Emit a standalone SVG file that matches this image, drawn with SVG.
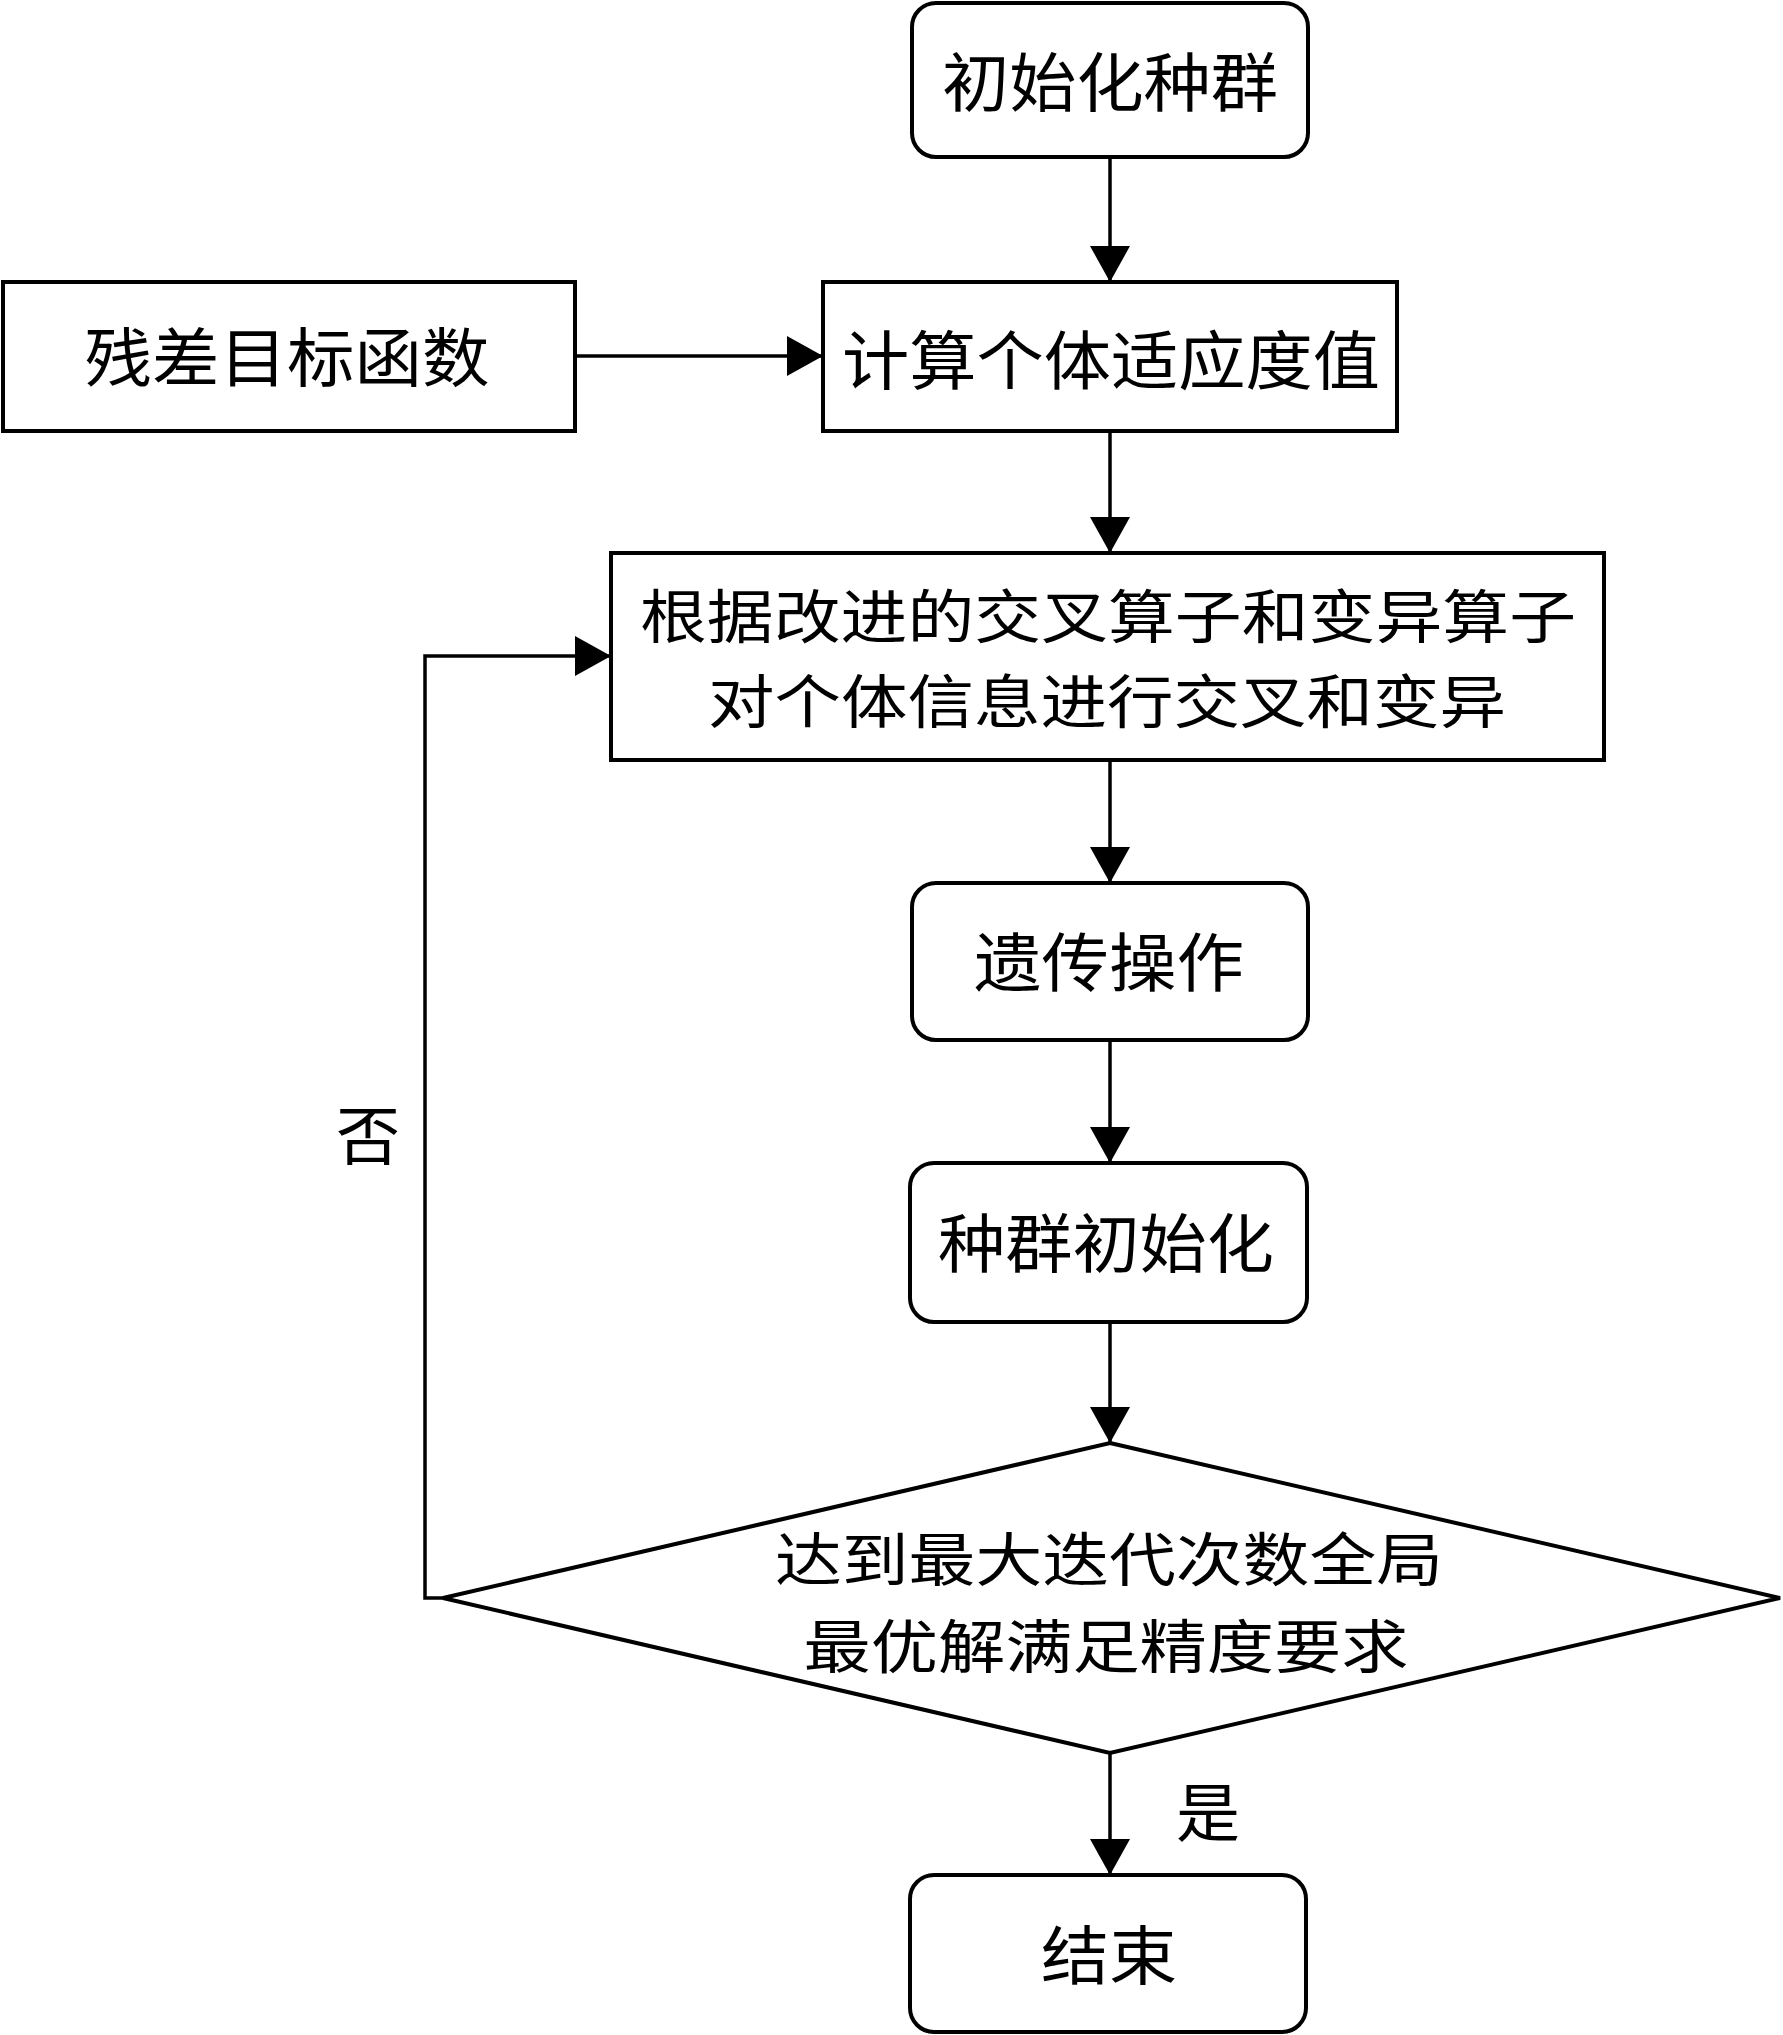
<svg xmlns="http://www.w3.org/2000/svg" width="1783" height="2035" viewBox="0 0 1783 2035">
<style>
.box{fill:#fff;stroke:#000;stroke-width:4}
.t{font-family:"Noto Sans CJK SC","Noto Sans CJK JP",sans-serif;font-size:64px;fill:#000;text-anchor:middle;dominant-baseline:central}
.t2{font-size:58px}
.c{fill:none;stroke:#000;stroke-width:3.5}
</style>
<defs>
<marker id="ah" markerUnits="userSpaceOnUse" markerWidth="36" markerHeight="40" refX="36" refY="20" orient="auto">
<path d="M0,0 L36,20 L0,40 Z" fill="#000"/>
</marker>
</defs>
<rect width="1783" height="2035" fill="#fff"/>
<g id="connectors">
<line class="c" x1="1110" y1="157" x2="1110" y2="282" marker-end="url(#ah)"/>
<line class="c" x1="575" y1="356" x2="823" y2="356" marker-end="url(#ah)"/>
<line class="c" x1="1110" y1="431" x2="1110" y2="553" marker-end="url(#ah)"/>
<line class="c" x1="1110" y1="760" x2="1110" y2="883" marker-end="url(#ah)"/>
<line class="c" x1="1110" y1="1040" x2="1110" y2="1163" marker-end="url(#ah)"/>
<line class="c" x1="1110" y1="1322" x2="1110" y2="1443" marker-end="url(#ah)"/>
<line class="c" x1="1110" y1="1753" x2="1110" y2="1875" marker-end="url(#ah)"/>
<polyline class="c" points="443,1598 425,1598 425,656 611,656" marker-end="url(#ah)"/>
<text class="t" x="368" y="1131">否</text>
<text class="t" x="1208" y="1808">是</text>
</g>
<g id="n1">
<rect class="box" x="912" y="3" width="396" height="154" rx="24"/>
<text class="t" x="1110" y="78" textLength="336" lengthAdjust="spacingAndGlyphs">初始化种群</text>
</g>
<g id="n2">
<rect class="box" x="3" y="282" width="572" height="149"/>
<text class="t" x="287" y="353" textLength="405" lengthAdjust="spacingAndGlyphs">残差目标函数</text>
</g>
<g id="n3">
<rect class="box" x="823" y="282" width="574" height="149"/>
<text class="t" x="1111" y="356" textLength="538" lengthAdjust="spacingAndGlyphs">计算个体适应度值</text>
</g>
<g id="n4">
<rect class="box" x="611" y="553" width="993" height="207"/>
<text class="t t2" x="1108" y="613" textLength="936" lengthAdjust="spacingAndGlyphs">根据改进的交叉算子和变异算子</text>
<text class="t t2" x="1107" y="698" textLength="798" lengthAdjust="spacingAndGlyphs">对个体信息进行交叉和变异</text>
</g>
<g id="n5">
<rect class="box" x="912" y="883" width="396" height="157" rx="24"/>
<text class="t" x="1109" y="958" textLength="270" lengthAdjust="spacingAndGlyphs">遗传操作</text>
</g>
<g id="n6">
<rect class="box" x="910" y="1163" width="397" height="159" rx="24"/>
<text class="t" x="1106" y="1239" textLength="336" lengthAdjust="spacingAndGlyphs">种群初始化</text>
</g>
<g id="n7">
<polygon class="box" points="1110,1443 1780,1598 1110,1753 443,1598"/>
<text class="t t2" x="1109" y="1556" textLength="668" lengthAdjust="spacingAndGlyphs">达到最大迭代次数全局</text>
<text class="t t2" x="1106" y="1643" textLength="605" lengthAdjust="spacingAndGlyphs">最优解满足精度要求</text>
</g>
<g id="n8">
<rect class="box" x="910" y="1875" width="396" height="157" rx="24"/>
<text class="t" x="1109" y="1951" textLength="136" lengthAdjust="spacingAndGlyphs">结束</text>
</g>
</svg>
